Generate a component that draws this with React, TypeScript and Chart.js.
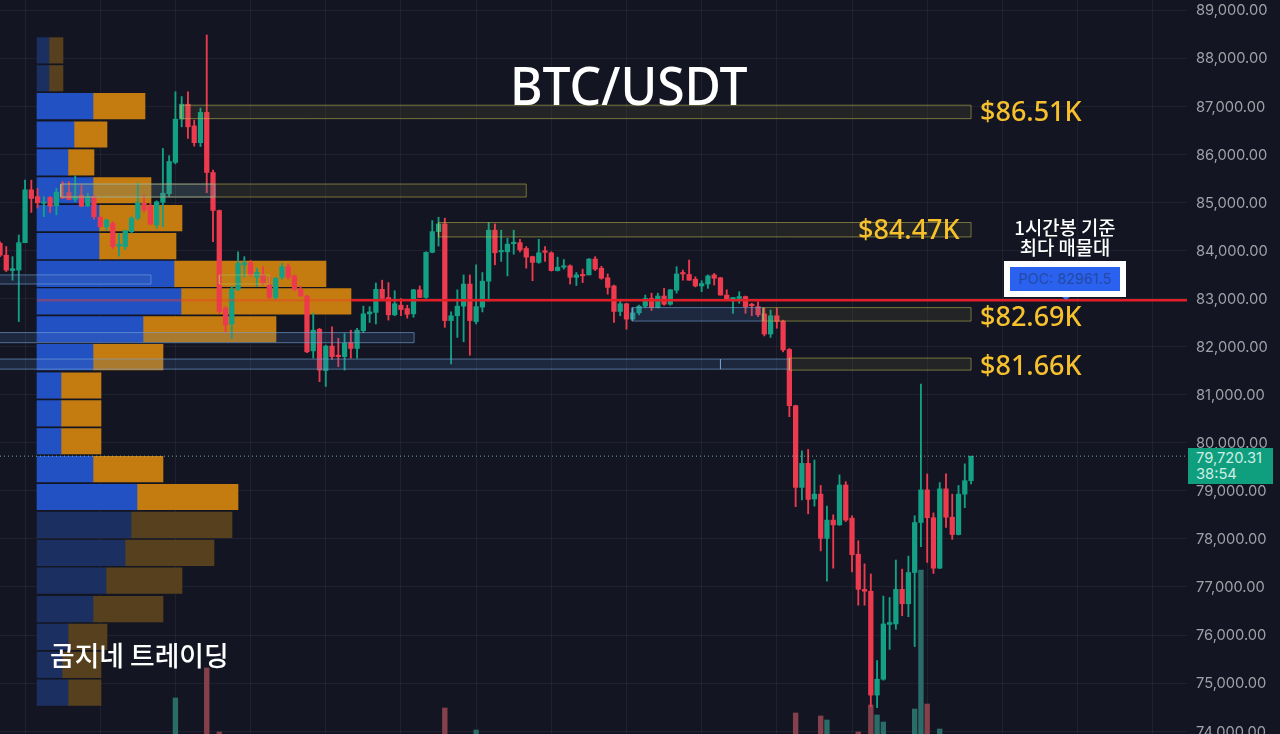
import { useEffect, useRef } from 'react';
import { Chart, registerables } from 'chart.js';

Chart.register(...registerables);

// candles, 1h
const opens = [
  84150, 83900, 83580, 83590, 84160, 85260, 85120, 84980, 85100, 84930, 85120, 85200, 85060, 85150, 84930, 85120,
  84690, 84490, 84560, 84090, 84080, 84390, 84670, 84980, 84920, 84530, 85000, 85180, 85830, 86730, 87040, 86590,
  86240, 86870, 85620, 84830, 82800, 82470, 83190, 83700, 83740, 83440, 83490, 83280, 83020, 83440, 83660, 83470,
  83190, 83050, 81910, 82360, 81500, 82010, 81820, 81790, 82080, 81960, 82330, 82680, 82710, 83190, 83020, 82660,
  82860, 82790, 82680, 83180, 83020, 83960, 84390, 84550, 82540, 82640, 82840, 83300, 82520, 82820, 83360, 84420,
  83970, 83970, 84140, 84160, 84040, 83870, 83750, 83990, 83950, 83580, 83650, 83680, 83440, 83500, 83490, 83820,
  83630, 83430, 83260, 82730, 82890, 82570, 82700, 82840, 83000, 82810, 83050, 82880, 83170, 83540, 83500, 83400,
  83260, 83300, 83490, 83430, 83070, 82990, 83000, 83040, 82880, 82830, 82680, 82260, 82640, 82530, 81940, 80770,
  79070, 79570, 78830, 78930, 78010, 78390, 78290, 79120, 78430, 77680, 76950, 76910, 74750, 75080, 76220, 76230,
  76950, 76650, 77300, 78340, 79020, 78440, 77390, 79040, 78450, 78090, 78930, 79210,
];
const highs = [
  84180, 84080, 83870, 84320, 85460, 85460, 85290, 85120, 85120, 85290, 85430, 85430, 85550, 85360, 85190, 85150,
  84700, 84650, 84600, 84350, 84420, 84700, 85400, 85150, 84980, 85030, 86120, 85970, 87300, 87200, 87300, 86710,
  86960, 88480, 85670, 84840, 82830, 83250, 83970, 83870, 83790, 83630, 83660, 83450, 83440, 83730, 83720, 83490,
  83250, 83070, 82690, 82380, 82030, 82410, 82170, 82270, 82340, 82380, 82840, 82830, 83320, 83380, 83330, 83160,
  83000, 82860, 83190, 83260, 83970, 84620, 84690, 84670, 82720, 83180, 83490, 83490, 83700, 83540, 84580, 84550,
  84420, 84250, 84420, 84230, 84080, 83880, 84230, 84080, 83970, 83860, 83810, 83700, 83540, 83610, 83830, 83870,
  83670, 83510, 83280, 82980, 82900, 82800, 82860, 83070, 83110, 83110, 83210, 83190, 83660, 83590, 83800, 83450,
  83370, 83490, 83520, 83440, 83180, 83020, 83140, 83050, 82900, 82930, 82800, 82760, 82800, 82550, 81960, 80780,
  79830, 79860, 79640, 79110, 78680, 78500, 79330, 79190, 78480, 77960, 77480, 77270, 75470, 76810, 76780, 77560,
  77370, 77640, 78480, 81220, 79350, 78540, 79170, 79350, 78930, 79110, 79560, 79710,
];
const lows = [
  83870, 83560, 83380, 82520, 84160, 84790, 84880, 84700, 84790, 84740, 85080, 85050, 85010, 84910, 84910, 84650,
  84480, 84420, 84040, 83880, 84020, 84355, 84630, 84800, 84530, 84460, 84490, 85120, 85800, 86570, 86330, 86170,
  86160, 85200, 84180, 82690, 82310, 82170, 83160, 83450, 83450, 83250, 83280, 83000, 82980, 83400, 83400, 83160,
  83040, 81870, 81760, 81270, 81170, 81730, 81580, 81510, 81760, 81760, 82290, 82500, 82470, 82980, 82550, 82640,
  82640, 82590, 82610, 83020, 83000, 83950, 84090, 82400, 81640, 82190, 82100, 81820, 82470, 82720, 82950, 83700,
  83770, 83470, 83920, 83970, 83630, 83370, 83730, 83770, 83570, 83570, 83610, 83300, 83270, 83330, 83490, 83580,
  83400, 83090, 82500, 82640, 82360, 82550, 82660, 82810, 82750, 82800, 82860, 82860, 83110, 83380, 83380, 83240,
  83140, 83210, 83280, 83070, 82970, 82690, 82900, 82690, 82640, 82620, 82220, 82190, 82380, 81890, 80540, 78670,
  78810, 78520, 78680, 77750, 77120, 77390, 78280, 78360, 77310, 76620, 76620, 74510, 74490, 75060, 75700, 76120,
  76400, 76380, 75760, 77840, 77510, 77280, 77380, 78240, 77990, 78080, 78650, 79140,
];
const closes = [
  83900, 83590, 83620, 84160, 85260, 85080, 84990, 85010, 84920, 85210, 85090, 85060, 85130, 84920, 85120, 84700,
  84490, 84630, 84080, 84130, 84410, 84670, 84990, 84840, 84550, 85010, 85190, 85850, 86730, 87040, 86570, 86240,
  86870, 85620, 84830, 82730, 82450, 83190, 83730, 83740, 83490, 83540, 83320, 83020, 83420, 83660, 83440, 83190,
  83050, 81890, 82340, 81510, 82010, 81790, 81790, 82070, 81960, 82340, 82680, 82720, 83190, 83000, 82660, 82890,
  82770, 82670, 83180, 83020, 83960, 84390, 84550, 82540, 82640, 82840, 83300, 82540, 82830, 83360, 84420, 83950,
  84000, 84130, 84170, 84010, 83860, 83750, 83950, 83960, 83580, 83650, 83680, 83440, 83490, 83470, 83820, 83610,
  83420, 83230, 82730, 82890, 82570, 82700, 82840, 83000, 82810, 83050, 82880, 83180, 83510, 83510, 83380, 83260,
  83310, 83470, 83420, 83070, 82980, 83020, 83040, 82830, 82850, 82660, 82260, 82640, 82520, 81930, 80770, 79070,
  79570, 78820, 78930, 78010, 78390, 78290, 79120, 78390, 77670, 76950, 76910, 74750, 75080, 76230, 76260, 76950,
  76650, 77300, 78340, 79020, 78440, 77390, 79040, 78450, 78090, 78930, 79210, 79720,
];

// only the candles whose volume bar shows above the bottom edge
const volumeCandles = [28, 33, 35, 71, 76, 127, 131, 132, 137, 139, 140, 141, 146, 147, 148, 150];
const volumeValues = [360, 660, 20, 260, 40, 210, 180, 140, 20, 290, 190, 120, 250, 1640, 300, 50];

// volume profile rows, top to bottom
const profileLevels = [
  88160, 87580, 87000, 86410, 85830, 85250, 84670, 84090, 83510, 82940, 82360, 81780, 81190, 80610, 80030, 79450,
  78870, 78290, 77710, 77130, 76540, 75960, 75380, 74800,
];
const profileBuy = [
  120, 120, 560, 370, 310, 560, 620, 620, 1370, 1440, 1060, 560, 240, 240, 240, 560, 1000, 940, 880, 690, 560, 310,
  250, 310,
];
const profileSell = [
  140, 140, 520, 330, 260, 580, 830, 770, 1520, 1700, 1330, 700, 400, 400, 400, 700, 1010, 1010, 890, 760, 700, 390,
  390, 330,
];
const dimmedFrom = 17;

// boxes: first candle, last candle, low, high
const yellowStart = [28.9, 9.7, 70, 121.8, 126, 35];
const yellowEnd = [155, 84, 155, 155, 155, 43];
const yellowLow = [86740, 85110, 84280, 82530, 81510, 83300];
const yellowHigh = [87020, 85380, 84580, 82810, 81760, 83490];
const blueStart = [9.7, -2, -2, -2, 115, 100.9];
const blueEnd = [34.3, 24.1, 66.1, 115, 126, 121.8];
const blueLow = [85110, 83300, 82080, 81530, 81530, 82530];
const blueHigh = [85380, 83490, 82290, 81740, 81740, 82810];

const priceTicks = [
  74000, 75000, 76000, 77000, 78000, 79000, 80000, 81000, 82000, 83000, 84000, 85000, 86000, 87000, 88000, 89000,
];
const gridCandles = [4, 16, 28, 40, 52, 64, 76, 88, 100, 112, 124, 136, 148, 160, 172, 184];

const pocPrice = 82961.5;
const lastPrice = 79720.31;

const RED = '#ee3a4e';
const GREEN = '#13a085';
const GRID = 'rgba(255,255,255,0.055)';
const LAST_X = 189.47;

const box = (start: number, end: number, low: number, high: number) => [
  { x: start, y: low },
  { x: end, y: low },
  { x: end, y: high },
  { x: start, y: high },
  { x: start, y: low },
];

const boxDatasets = (
  starts: number[],
  ends: number[],
  lows: number[],
  highs: number[],
  border: string,
  fill: string
) =>
  starts.map((s, i) => ({
    type: 'line' as const,
    data: box(s, ends[i], lows[i], highs[i]),
    borderColor: border,
    borderWidth: 1,
    backgroundColor: fill,
    fill: 'shape',
    pointRadius: 0,
    tension: 0,
    order: 2,
  }));

const labelStyle = (left: number, top: number): React.CSSProperties => ({
  position: 'absolute',
  left,
  top,
  transform: 'translateY(-50%)',
  fontFamily: '"Noto Sans", sans-serif',
  fontSize: 27,
  fontWeight: 500,
  lineHeight: 1,
  color: '#f6c12c',
  whiteSpace: 'nowrap',
});

const levelLabels = [
  { text: '$86.51K', left: 980, top: 110 },
  { text: '$84.47K', left: 858, top: 228 },
  { text: '$82.69K', left: 980, top: 315 },
  { text: '$81.66K', left: 980, top: 364 },
];

export default function App() {
  const canvasRef = useRef<HTMLCanvasElement>(null);

  useEffect(() => {
    if (!canvasRef.current) return;
    const candleColors = opens.map((o, i) => (closes[i] >= o ? GREEN : RED));

    const chart = new Chart(canvasRef.current, {
      type: 'bar',
      data: {
        datasets: [
          {
            indexAxis: 'y',
            xAxisID: 'xProfile',
            data: profileLevels.map((p, i) => ({ x: [0, profileBuy[i]], y: p })),
            backgroundColor: profileLevels.map((_, i) => (i < 2 || i >= dimmedFrom ? '#1b2f60' : '#2251c4')),
            barThickness: 25.5,
            grouped: false,
            order: 7,
          },
          {
            indexAxis: 'y',
            xAxisID: 'xProfile',
            data: profileLevels.map((p, i) => ({ x: [profileBuy[i], profileBuy[i] + profileSell[i]], y: p })),
            backgroundColor: profileLevels.map((_, i) => (i < 2 || i >= dimmedFrom ? '#57401d' : '#c47c10')),
            barThickness: 25.5,
            grouped: false,
            order: 7,
          },
          {
            yAxisID: 'yVolume',
            data: volumeCandles.map((c, i) => ({ x: c, y: volumeValues[i] })),
            backgroundColor: volumeCandles.map((c) => (closes[c] >= opens[c] ? '#2a6d68' : '#85404c')),
            barThickness: 4.7,
            grouped: false,
            order: 6,
          },
          {
            data: opens.map((_, i) => ({ x: i, y: [lows[i], highs[i]] })),
            backgroundColor: candleColors,
            barThickness: 1.2,
            grouped: false,
            order: 5,
          },
          {
            data: opens.map((o, i) => ({ x: i, y: [o, closes[i]] })),
            backgroundColor: candleColors,
            barThickness: 4.6,
            grouped: false,
            order: 4,
          },
          ...boxDatasets(yellowStart, yellowEnd, yellowLow, yellowHigh, 'rgba(196,186,80,0.55)', 'rgba(170,170,70,0.1)'),
          ...boxDatasets(blueStart, blueEnd, blueLow, blueHigh, 'rgba(120,165,215,0.6)', 'rgba(70,115,175,0.2)'),
          {
            type: 'line',
            data: [
              { x: 5.9, y: pocPrice },
              { x: 56, y: pocPrice },
            ],
            borderColor: 'rgba(235,60,40,0.42)',
            borderWidth: 2.6,
            pointRadius: 0,
            order: 1,
          },
          {
            type: 'line',
            data: [
              { x: 56, y: pocPrice },
              { x: LAST_X, y: pocPrice },
            ],
            borderColor: 'rgb(228,30,38)',
            borderWidth: 2.6,
            pointRadius: 0,
            order: 1,
          },
          {
            type: 'line',
            data: [
              { x: 0, y: lastPrice },
              { x: LAST_X, y: lastPrice },
            ],
            borderColor: 'rgba(150,215,200,0.75)',
            borderWidth: 1,
            borderDash: [1, 3],
            pointRadius: 0,
            order: 1,
          },
        ] as any,
      },
      options: {
        responsive: false,
        animation: false,
        events: [],
        layout: { padding: 0 },
        plugins: { legend: { display: false }, tooltip: { enabled: false } },
        scales: {
          x: {
            type: 'linear',
            min: 0,
            max: LAST_X,
            offset: false,
            afterBuildTicks: (scale) => {
              scale.ticks = gridCandles.map((value) => ({ value }));
            },
            afterFit: (scale) => {
              scale.height = 0;
              scale.paddingLeft = 0;
              scale.paddingRight = 0;
            },
            ticks: { display: false, autoSkip: false },
            grid: { color: GRID, drawTicks: false, offset: false },
            border: { display: false },
          },
          xProfile: {
            type: 'linear',
            axis: 'x',
            display: false,
            min: -370,
            max: 11500,
            offset: false,
            grid: { offset: false },
          },
          y: {
            type: 'linear',
            position: 'right',
            min: 73941,
            max: 89208,
            offset: false,
            afterBuildTicks: (scale) => {
              scale.ticks = priceTicks.map((value) => ({ value }));
            },
            afterFit: (scale) => {
              scale.width = 93;
              // the outer labels may run past the canvas edge instead of shrinking the plot
              scale.paddingTop = 0;
              scale.paddingBottom = 0;
            },
            ticks: {
              autoSkip: false,
              padding: 9,
              labelOffset: 1,
              color: '#9fa2a9',
              font: { family: 'Inter', size: 14.7 },
              callback: (v) => Number(v).toLocaleString('en-US', { minimumFractionDigits: 2 }),
            },
            grid: { color: GRID, drawTicks: false, offset: false },
            border: { display: false },
          },
          yVolume: {
            type: 'linear',
            axis: 'y',
            display: false,
            min: 0,
            max: 7340,
            offset: false,
            grid: { offset: false },
          },
        },
      } as any,
    });

    return () => {
      chart.destroy();
    };
  }, []);

  return (
    <div style={{ position: 'fixed', inset: 0, width: 1280, height: 734, overflow: 'hidden', background: '#131622' }}>
      <canvas ref={canvasRef} width={1280} height={734} style={{ display: 'block' }} />

      <div
        style={{
          position: 'absolute',
          left: 510,
          top: 84,
          transform: 'translateY(-50%) scaleX(0.94)',
          transformOrigin: 'left center',
          fontFamily: '"Noto Sans", sans-serif',
          fontSize: 53,
          fontWeight: 500,
          lineHeight: 1,
          color: '#ffffff',
          whiteSpace: 'nowrap',
        }}
      >
        BTC/USDT
      </div>

      {levelLabels.map((l) => (
        <div key={l.text} style={labelStyle(l.left, l.top)}>
          {l.text}
        </div>
      ))}

      <div
        style={{
          position: 'absolute',
          left: 50,
          top: 655,
          transform: 'translateY(-50%)',
          fontFamily: '"Noto Sans CJK KR", sans-serif',
          fontSize: 26.8,
          fontWeight: 500,
          lineHeight: 1,
          color: '#ffffff',
          whiteSpace: 'nowrap',
        }}
      >
        곰지네 트레이딩
      </div>

      <div
        style={{
          position: 'absolute',
          left: 965,
          width: 200,
          top: 217,
          textAlign: 'center',
          fontFamily: '"Noto Sans CJK KR", sans-serif',
          fontSize: 18.8,
          fontWeight: 500,
          lineHeight: '20px',
          color: '#ffffff',
        }}
      >
        1시간봉 기준
        <br />
        최다 매물대
      </div>

      <div
        style={{
          position: 'absolute',
          left: 1004,
          top: 261,
          width: 122,
          height: 36,
          boxSizing: 'border-box',
          border: '6px solid #ffffff',
          background: '#2a62ef',
          color: '#2449a8',
          fontFamily: 'Inter, sans-serif',
          fontSize: 14.4,
          lineHeight: '24px',
          textAlign: 'center',
          whiteSpace: 'nowrap',
        }}
      >
        POC: 82961.5
      </div>
      <div
        style={{
          position: 'absolute',
          left: 1062,
          top: 297,
          width: 0,
          height: 0,
          borderLeft: '4px solid transparent',
          borderRight: '4px solid transparent',
          borderTop: '3px solid #3f6fe0',
        }}
      />

      <div
        style={{
          position: 'absolute',
          left: 1188,
          top: 448,
          width: 85,
          height: 36,
          background: '#0f9e7e',
          color: '#cfeee6',
          fontFamily: 'Inter, sans-serif',
          fontSize: 14.7,
          lineHeight: '16px',
          paddingLeft: 8,
          paddingTop: 2,
          boxSizing: 'border-box',
          whiteSpace: 'nowrap',
        }}
      >
        79,720.31
        <br />
        38:54
      </div>
    </div>
  );
}
